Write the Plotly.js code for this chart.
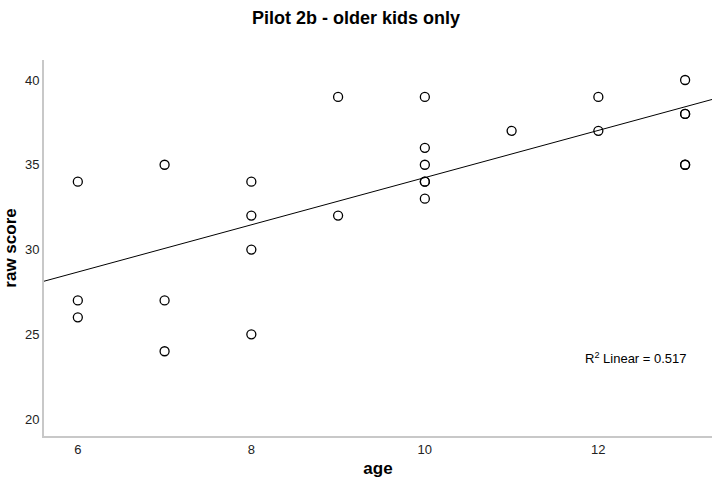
<!DOCTYPE html>
<html>
<head>
<meta charset="utf-8">
<script src="https://cdn.plot.ly/plotly-3.0.1.min.js"></script>
<style>html,body{margin:0;padding:0;background:#fff;}#chart{width:712px;height:478px;}</style>
</head>
<body>
<div id="chart"></div>
<script>
// Data (duplicates included)
const ages = [6,6,6, 7,7,7, 8,8,8,8, 9,9, 10,10,10,10,10,10, 11, 12,12, 13,13,13,13,13];
const rawScores = [34,27,26, 35,27,24, 34,32,30,25, 39,32, 39,36,35,34,34,33, 37, 39,37, 40,38,38,35,35];
const xTickVals = [6, 8, 10, 12];
const yTickVals = [20, 25, 30, 35, 40];
const xRange = [5.61, 13.31];
const yRange = [19.0, 41.18];

// Least-squares fit computed from the data
const n = ages.length;
const mx = ages.reduce((a,b)=>a+b,0)/n;
const my = rawScores.reduce((a,b)=>a+b,0)/n;
let sxy=0, sxx=0, syy=0;
for (let i=0;i<n;i++){ sxy+=(ages[i]-mx)*(rawScores[i]-my); sxx+=(ages[i]-mx)**2; syy+=(rawScores[i]-my)**2; }
const slope = sxy/sxx, intercept = my - slope*mx;
const r2 = (sxy*sxy)/(sxx*syy);
const fitX = xRange.slice();
const fitY = fitX.map(x => intercept + slope*x);

const font = 'Liberation Sans, Arial, sans-serif';
const data = [
  {x: fitX, y: fitY, type:'scatter', mode:'lines', line:{color:'#000', width:1}, hoverinfo:'skip', showlegend:false},
  {x: ages, y: rawScores, type:'scatter', mode:'markers',
   marker:{symbol:'circle-open', size:9, color:'#000', line:{width:1.3, color:'#000'}}, showlegend:false}
];
const layout = {
  width:712, height:478,
  margin:{l:44, r:0, t:60, b:42},
  paper_bgcolor:'#fff', plot_bgcolor:'#fff',
  font:{family:font, color:'#222', size:13},
  title:{text:'<b>Pilot 2b - older kids only</b>', font:{family:font, size:18, color:'#000'},
         x:0.5, xref:'container', y:1-18/478, yref:'container', yanchor:'middle'},
  xaxis:{range:xRange, tickvals:xTickVals, showgrid:false, zeroline:false,
         showline:true, linecolor:'#c8c8c8', linewidth:2, ticks:'', ticklabelstandoff:0,
         tickfont:{family:font, size:13, color:'#222'},
         title:{text:'<b>age</b>', font:{family:font, size:17, color:'#000'}, standoff:12}},
  yaxis:{range:yRange, tickvals:yTickVals, showgrid:false, zeroline:false,
         showline:true, linecolor:'#c8c8c8', linewidth:2, ticks:'', ticklabelstandoff:0,
         tickfont:{family:font, size:13, color:'#222'},
         title:{text:'<b>raw score</b>', font:{family:font, size:17, color:'#000'}, standoff:4}},
  annotations:[{
    text:'R<sup>2</sup> Linear = ' + r2.toFixed(3),
    xref:'paper', yref:'paper', x:(636-44)/668, y:(436-358)/376,
    showarrow:false, font:{family:font, size:13, color:'#000'}, xanchor:'center', yanchor:'middle'
  }]
};
Plotly.newPlot('chart', data, layout, {displayModeBar:false, staticPlot:true});
</script>
</body>
</html>
